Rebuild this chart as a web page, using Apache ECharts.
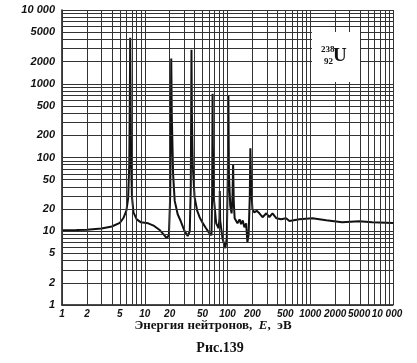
<!DOCTYPE html>
<html>
<head>
<meta charset="utf-8">
<script src="https://cdn.jsdelivr.net/npm/echarts@6/dist/echarts.min.js"></script>
<style>
  html, body { margin: 0; padding: 0; background: #fff; }
  #main { width: 417px; height: 363px; }
</style>
</head>
<body>
<div id="main"></div>
<script>
  // энергия нейтронов, эВ
  var energy = [
    1, 1.5, 2, 3, 4, 5, 5.5, 6, 6.3, 6.5, 6.6, 6.67, 6.75, 6.85, 7.0, 7.3, 8, 9,
    11, 13, 15, 17, 18.5, 19.6, 20.3, 20.7, 20.9, 21.2, 22, 23, 25, 27, 30, 33,
    35, 36, 36.4, 36.7, 37.1, 38, 40, 43, 46, 50, 55, 60, 64,
    65.2, 65.7, 66, 66.5, 68, 73, 78, 80, 80.7, 81.5, 87, 94,
    98, 101, 102.5, 104, 108, 112, 115, 116.9, 119, 122, 132, 140, 146, 153, 160, 168, 174,
    180, 186, 189, 193, 200, 211, 225, 243, 265, 295, 320, 350, 390, 445, 510, 560,
    740, 1060, 1560, 2430, 3900, 5600, 10000
  ];
  // полное сечение, барн
  var sigma = [
    10.3, 10.4, 10.5, 10.9, 11.6, 13, 15, 19, 28, 80, 600, 4200, 600, 80, 30, 18, 14.5, 13.2,
    12.8, 11.8, 10.5, 9, 8, 9, 30, 300, 2200, 400, 60, 26, 17, 14, 10.3, 8.6,
    10, 40, 400, 2900, 400, 80, 29, 19, 15.5, 13, 11, 9.5, 8.8,
    30, 200, 730, 150, 30, 12.8, 11, 15, 35, 14, 8, 5.9,
    8, 60, 680, 60, 22, 17.5, 30, 80, 25, 15, 12.8, 14.5, 12.5, 14, 11.3, 12.8, 7.1,
    9, 30, 133, 40, 20, 18, 19, 17.5, 15.5, 17.5, 15.5, 17.5, 15, 14.5, 15, 13.8,
    14.5, 15, 14.1, 13.2, 13.7, 13.2, 12.9
  ];
  var labelValues = [1, 2, 5, 10, 20, 50, 100, 200, 500, 1000, 2000, 5000, 10000];
  var gridValues = [
    1, 2, 3, 4, 5, 6, 7, 8, 9,
    10, 20, 30, 40, 50, 60, 70, 80, 90,
    100, 200, 300, 400, 500, 600, 700, 800, 900,
    1000, 2000, 3000, 4000, 5000, 6000, 7000, 8000, 9000, 10000
  ];

  var points = energy.map(function (e, i) { return [e, sigma[i]]; });
  var gridLines = [];
  gridValues.forEach(function (v) {
    gridLines.push({ xAxis: v });
    gridLines.push({ yAxis: v });
  });

  function fmtY(v) {
    return v === 10000 ? '10 000' : String(v);
  }
  // два последних подписи по оси X в оригинале сдвинуты влево
  function fmtX(v) {
    if (v === 10000) return '{t|10 000}';
    if (v === 5000) return '{s|5000}';
    return String(v);
  }

  function labelStyle(size, margin, fmt) {
    return {
      customValues: labelValues,
      formatter: fmt,
      showMinLabel: true,
      showMaxLabel: true,
      hideOverlap: false,
      margin: margin,
      fontFamily: 'Liberation Sans',
      fontStyle: 'italic',
      fontWeight: 'bold',
      fontSize: size,
      color: '#111',
      rich: {
        s: { padding: [0, 18, 0, 0] },
        t: { padding: [0, 12, 0, 0] }
      }
    };
  }

  var serif = 'Liberation Serif';
  var myChart = echarts.init(document.getElementById('main'));
  myChart.setOption({
    backgroundColor: '#fff',
    animation: false,
    grid: { left: 62, right: 24, top: 10, bottom: 58 },
    xAxis: {
      type: 'log',
      logBase: 10,
      min: 1,
      max: 10000,
      axisLine: { lineStyle: { color: '#111', width: 1.5 } },
      axisTick: { show: false },
      splitLine: { show: false },
      axisLabel: labelStyle(10, 4, fmtX)
    },
    yAxis: {
      type: 'log',
      logBase: 10,
      min: 1,
      max: 10000,
      axisLine: { show: true, lineStyle: { color: '#111', width: 1.5 } },
      axisTick: { show: false },
      splitLine: { show: false },
      axisLabel: labelStyle(11, 7, fmtY)
    },
    graphic: [
      {
        type: 'text', x: 213, y: 326, z: 10,
        style: {
          text: '{b|Энергия нейтронов,  }{i|E}{b|,  эВ}',
          align: 'center', verticalAlign: 'middle',
          rich: {
            b: { fontFamily: serif, fontWeight: 'bold', fontSize: 13, fill: '#111' },
            i: { fontFamily: serif, fontWeight: 'bold', fontStyle: 'italic', fontSize: 13, fill: '#111' }
          }
        }
      },
      {
        type: 'text', x: 220, y: 348, z: 10,
        style: {
          text: 'Рис.139', align: 'center', verticalAlign: 'middle',
          fontFamily: serif, fontWeight: 'bold', fontSize: 14, fill: '#111'
        }
      },
      { type: 'rect', z: 10, shape: { x: 312, y: 32, width: 48, height: 50 }, style: { fill: '#fff' } },
      { type: 'text', z: 11, x: 321, y: 50, style: { text: '238', verticalAlign: 'middle', fontFamily: serif, fontWeight: 'bold', fontSize: 9, fill: '#111' } },
      { type: 'text', z: 11, x: 324, y: 62, style: { text: '92', verticalAlign: 'middle', fontFamily: serif, fontWeight: 'bold', fontSize: 9, fill: '#111' } },
      { type: 'text', z: 11, x: 333, y: 56, style: { text: 'U', verticalAlign: 'middle', fontFamily: serif, fontWeight: 'bold', fontSize: 19, fill: '#111' } }
    ],
    series: [{
      type: 'line',
      data: points,
      showSymbol: false,
      smooth: false,
      lineStyle: { color: '#111', width: 2 },
      markLine: {
        silent: true,
        symbol: 'none',
        label: { show: false },
        lineStyle: { color: '#333', width: 1, type: 'solid' },
        data: gridLines
      }
    }]
  });
</script>
</body>
</html>
